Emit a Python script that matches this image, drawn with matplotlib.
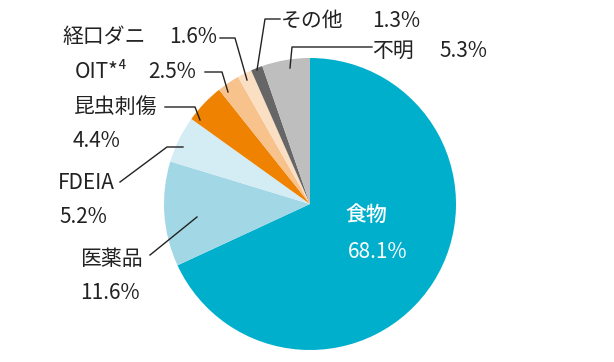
import matplotlib.pyplot as plt

plt.rcParams['font.family'] = ['Noto Sans CJK JP', 'DejaVu Sans']

# data (clockwise from 12 o'clock)
labels = ["食物", "医薬品", "FDEIA", "昆虫刺傷", "OIT*⁴", "経口ダニ", "その他", "不明"]
values = [68.1, 11.6, 5.2, 4.4, 2.5, 1.6, 1.3, 5.3]
colors = ["#00afcc", "#a2d7e6", "#d4ecf4", "#ef8200", "#f7c28b",
          "#fbdfc3", "#666666", "#bebebe"]

fig = plt.figure(figsize=(6.14, 3.62), dpi=100)
ax = fig.add_axes([0, 0, 1, 1])

# pixel coords, y downward; counterclock in data == clockwise on screen
ax.pie(values, colors=colors, startangle=-90, counterclock=True,
       center=(310, 204), radius=146, wedgeprops=dict(linewidth=0))
ax.set_xlim(0, 614)
ax.set_ylim(362, 0)
ax.set_aspect('equal')
ax.axis('off')

fs = 15
# 食物 inside the pie
ax.text(366, 215, labels[0], color="white", fontsize=fs, ha="center", va="center",
        fontweight="medium")
ax.text(378, 252, "%.1f%%" % values[0], color="white", fontsize=fs,
        ha="center", va="center")

# (name xy, value xy, leader path)
outside = {
    1: ((111, 259), (110, 293), [(150, 255), (197, 217)]),
    2: ((86, 183), (83, 217), [(120, 182), (167, 147), (183, 147)]),
    3: ((116, 107), (97, 141), [(165, 107), (195, 107), (200, 120)]),
    4: ((101, 72), (172, 72), [(205, 72), (222, 72), (228, 92)]),
    5: ((104, 37), (193, 37), [(220, 38), (235, 38), (247, 80)]),
    6: ((312, 21), (396, 21), [(280, 19), (265, 19), (257, 70)]),
    7: ((393, 51), (463, 51), [(372, 47), (292, 47), (290, 68)]),
}

for i, (name_xy, val_xy, path) in outside.items():
    ax.text(*name_xy, labels[i], fontsize=fs, ha="center", va="center", color="#222222")
    ax.text(*val_xy, "%.1f%%" % values[i], fontsize=fs, ha="center", va="center",
            color="#222222")
    xs, ys = zip(*path)
    ax.plot(xs, ys, color="#222222", lw=1)

fig.savefig("out.png", dpi=100)
